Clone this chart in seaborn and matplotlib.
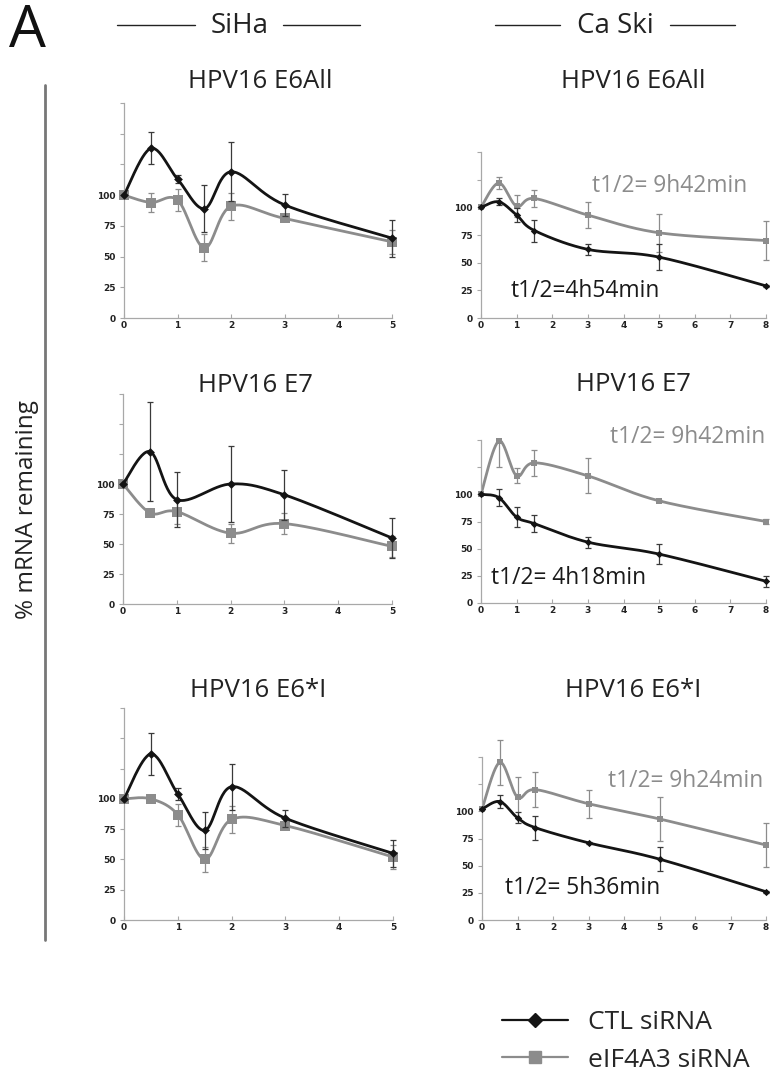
import numpy as np
import matplotlib
matplotlib.use("Agg")
import matplotlib.pyplot as plt
from matplotlib.lines import Line2D
import seaborn as sns

sns.set_theme(style="white")
plt.rcParams['font.family'] = ['Open Sans', 'DejaVu Sans']

# ---------------- data ----------------
siha_t = [0, 0.5, 1, 1.5, 2, 3, 5]
siha_e7_t = [0, 0.5, 1, 2, 3, 5]
caski_t = [0, 0.5, 1, 1.5, 3, 5, 8]

siha_e6all_ctl = [100, 138, 113, 89, 119, 92, 65]
siha_e6all_ctl_err = [0, 13, 3, 19, 24, 9, 15]
siha_e6all_eif = [100, 94, 96, 57, 91, 81, 62]
siha_e6all_eif_err = [0, 8, 9, 11, 11, 2, 10]

caski_e6all_ctl = [100, 105, 93, 79, 62, 55, 29]
caski_e6all_ctl_err = [0, 3, 6, 10, 5, 12, 1]
caski_e6all_eif = [100, 122, 101, 108, 93, 77, 70]
caski_e6all_eif_err = [0, 5, 10, 8, 12, 17, 18]

siha_e7_ctl = [100, 127, 87, 100, 91, 55]
siha_e7_ctl_err = [0, 41, 23, 32, 21, 17]
siha_e7_eif = [100, 76, 77, 59, 67, 48]
siha_e7_eif_err = [0, 2, 10, 8, 9, 9]

caski_e7_ctl = [100, 97, 79, 73, 56, 45, 20]
caski_e7_ctl_err = [0, 8, 9, 8, 5, 9, 5]
caski_e7_eif = [100, 149, 117, 129, 117, 94, 75]
caski_e7_eif_err_low = [0, 24, 7, 12, 16, 1, 2]
caski_e7_eif_err_high = [0, 0, 7, 12, 16, 1, 2]

siha_e6i_ctl = [100, 137, 104, 74, 110, 84, 55]
siha_e6i_ctl_err = [0, 17, 5, 15, 19, 7, 11]
siha_e6i_eif = [100, 100, 87, 50, 83, 78, 52]
siha_e6i_eif_err = [0, 3, 9, 10, 11, 2, 10]

caski_e6i_ctl = [102, 109, 94, 85, 71, 56, 26]
caski_e6i_ctl_err = [0, 6, 5, 11, 1, 11, 1]
caski_e6i_eif = [102, 145, 113, 120, 107, 93, 69]
caski_e6i_eif_err = [0, 21, 19, 16, 13, 20, 20]

titles = ["HPV16 E6All", "HPV16 E6All", "HPV16 E7", "HPV16 E7", "HPV16 E6*I", "HPV16 E6*I"]
cell_lines = ["SiHa", "Ca Ski"]
series_labels = ["CTL siRNA", "eIF4A3 siRNA"]
halflife_ctl = ["t1/2=4h54min", "t1/2= 4h18min", "t1/2= 5h36min"]
halflife_eif = ["t1/2= 9h42min", "t1/2= 9h42min", "t1/2= 9h24min"]

# ---------------- style ----------------
W, H = 770, 1080
BLACK = "#141414"
GRAY = "#8c8c8c"

fig = plt.figure(figsize=(W / 100, H / 100), dpi=100)
fig.patch.set_facecolor("white")


def fx(x):
    return x / W


def fy(y):
    return 1 - y / H


def smooth(x, y, sx, sy, n=30):
    """Excel-like smoothed rendering (Catmull-Rom Bezier) in pixel space."""
    P = np.column_stack([np.asarray(x, float) * sx, np.asarray(y, float) * sy])
    m = len(P)
    out = [P[0]]
    t = np.linspace(0, 1, n)[1:, None]
    for i in range(m - 1):
        p0 = P[i - 1] if i > 0 else P[i]
        p1, p2 = P[i], P[i + 1]
        p3 = P[i + 2] if i + 2 < m else P[i + 1]
        c1 = p1 + (p2 - p0) / 6
        c2 = p2 - (p3 - p1) / 6
        seg = (1 - t) ** 3 * p1 + 3 * (1 - t) ** 2 * t * c1 + 3 * (1 - t) * t ** 2 * c2 + t ** 3 * p2
        out.extend(seg)
    out = np.array(out)
    return out[:, 0] / sx, out[:, 1] / sy


# panel layout: (left px, right px, top px, bottom px, xmax, ymax)
layout = [
    (124, 392, 103, 318, 5, 175),
    (481, 766, 152, 318, 8, 150),
    (123, 392, 394, 604, 5, 175),
    (481, 766, 440, 603, 8, 150),
    (124, 393, 708, 920, 5, 175),
    (482, 766, 757, 920, 8, 150),
]

panels = [
    (siha_t, siha_e6all_ctl, siha_e6all_ctl_err, siha_e6all_eif, siha_e6all_eif_err, None),
    (caski_t, caski_e6all_ctl, caski_e6all_ctl_err, caski_e6all_eif, caski_e6all_eif_err, None),
    (siha_e7_t, siha_e7_ctl, siha_e7_ctl_err, siha_e7_eif, siha_e7_eif_err, None),
    (caski_t, caski_e7_ctl, caski_e7_ctl_err, caski_e7_eif, caski_e7_eif_err_low, caski_e7_eif_err_high),
    (siha_t, siha_e6i_ctl, siha_e6i_ctl_err, siha_e6i_eif, siha_e6i_eif_err, None),
    (caski_t, caski_e6i_ctl, caski_e6i_ctl_err, caski_e6i_eif, caski_e6i_eif_err, None),
]

for k, ((l, r, tp, bt, xmax, ymax), (tt, ctl, ctl_e, eif, eif_e, eif_hi)) in enumerate(zip(layout, panels)):
    ax = fig.add_axes([fx(l), fy(bt), fx(r - l), (bt - tp) / H])
    ax.set_facecolor("white")
    sx = (r - l) / xmax
    sy = (bt - tp) / ymax
    caski = (k % 2 == 1)

    for vals, err, err_hi, color, mk, ms, ecol, z in [
        (eif, eif_e, eif_hi, GRAY, "s", 16 if caski else 55, GRAY, 2),
        (ctl, ctl_e, None, BLACK, "D", 14 if caski else 20, "#3a3a3a", 3),
    ]:
        yerr = err if err_hi is None else [err, err_hi]
        eb = ax.errorbar(tt, vals, yerr=yerr, fmt="none", ecolor=ecol,
                         elinewidth=0.9, capsize=2.5, capthick=0.9, zorder=z)
        for art in list(eb.lines[1]) + list(eb.lines[2]):
            art.set_clip_on(False)
        xs, ys = smooth(tt, vals, sx, sy)
        sns.lineplot(x=xs, y=ys, ax=ax, color=color, lw=2.0, sort=False,
                     estimator=None, zorder=z + 0.2, legend=False)
        sns.scatterplot(x=tt, y=vals, ax=ax, marker=mk, s=ms, color=color,
                        edgecolor=color, linewidth=0, zorder=z + 0.4,
                        clip_on=False, legend=False)

    ax.set_xlim(0, xmax)
    ax.set_ylim(0, ymax)
    ax.set_xticks(range(0, xmax + 1))
    ax.set_xticklabels([str(v) for v in range(0, xmax + 1)])
    yt = list(range(0, ymax + 1, 25))
    ax.set_yticks(yt)
    ax.set_yticklabels([str(v) if v <= 100 else "" for v in yt])
    ax.set_xlabel("")
    ax.set_ylabel("")
    for s in ("top", "right"):
        ax.spines[s].set_visible(False)
    for s in ("left", "bottom"):
        ax.spines[s].set_color("#a8a8a8")
        ax.spines[s].set_linewidth(0.9)
    ax.tick_params(axis="y", direction="out", length=3, width=0.8, colors="#a8a8a8",
                   labelcolor="#222222", pad=3, labelsize=6.5, left=True)
    ax.tick_params(axis="x", direction="in", length=3, width=0.8, colors="#a8a8a8",
                   labelcolor="#222222", pad=2, labelsize=6.5, bottom=True)
    for lab in ax.get_xticklabels() + ax.get_yticklabels():
        lab.set_fontfamily("DejaVu Sans")
        lab.set_fontweight("bold")
    ax.grid(False)

# panel titles (baseline positions in px)
title_pos = [(260, 88), (633, 88), (255, 392), (633, 391), (258, 697), (633, 697)]
for ttl, (x, y) in zip(titles, title_pos):
    fig.text(fx(x), fy(y), ttl, ha="center", va="baseline", fontsize=18.5, color="#222222")

# half-life annotations (left, baseline px)
eif_pos = [(592, 192), (610, 443), (608, 787)]
ctl_pos = [(511, 297), (491, 584), (505, 894)]
for txt, (x, y) in zip(halflife_eif, eif_pos):
    fig.text(fx(x), fy(y), txt, ha="left", va="baseline", fontsize=16.4, color=GRAY)
for txt, (x, y) in zip(halflife_ctl, ctl_pos):
    fig.text(fx(x), fy(y), txt, ha="left", va="baseline", fontsize=16.4, color="#1a1a1a")

# header
fig.text(fx(9), fy(47), "A", ha="left", va="baseline", fontsize=42, color="#111111")
header = [(cell_lines[0], 240, (117, 195), (283, 360)),
          (cell_lines[1], 615, (495, 560), (670, 735))]
for name, cx, (a0, a1), (b0, b1) in header:
    fig.text(fx(cx), fy(33), name, ha="center", va="baseline", fontsize=20, color="#222222")
    for u0, u1 in [(a0, a1), (b0, b1)]:
        fig.add_artist(Line2D([fx(u0), fx(u1)], [fy(25), fy(25)], transform=fig.transFigure,
                              color="#222222", lw=1.0))

# left bracket line and shared y label
fig.add_artist(Line2D([fx(45), fx(45)], [fy(85), fy(940)], transform=fig.transFigure,
                      color="#777777", lw=2.0))
fig.text(fx(27), fy(510), "% mRNA remaining", rotation=90, ha="center", va="center",
         fontsize=17.5, color="#222222")

# legend
handles = [Line2D([], [], color=BLACK, marker="D", markersize=7.5, lw=1.6),
           Line2D([], [], color=GRAY, marker="s", markersize=8.5, lw=1.6)]
fig.legend(handles, series_labels, loc="upper left", bbox_to_anchor=(fx(502), fy(1010)),
           frameon=False, fontsize=19, handlelength=2.5, handletextpad=0.75,
           labelspacing=0.48, borderpad=0, borderaxespad=0)

fig.savefig("out.png", dpi=100, facecolor="white")
